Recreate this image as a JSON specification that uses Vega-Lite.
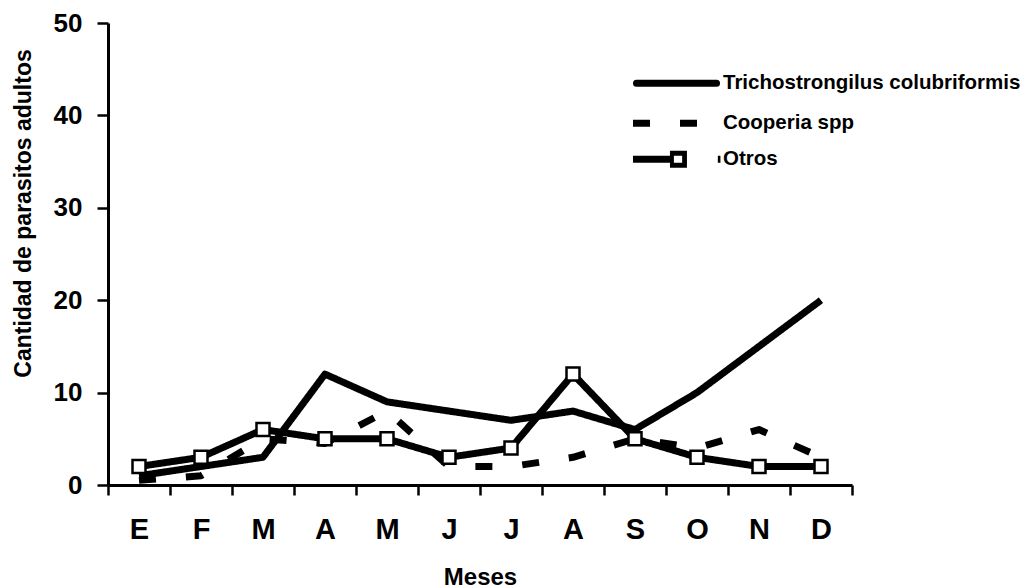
{
  "$schema": "https://vega.github.io/schema/vega-lite/v6.json",
  "width": 744,
  "height": 462,
  "autosize": {"type": "none"},
  "padding": {"left": 108, "top": 23, "right": 177, "bottom": 103},
  "background": "white",
  "config": {
    "view": {"stroke": null},
    "font": "Liberation Sans",
    "axis": {"labelColor": "black", "titleColor": "black", "domainColor": "black", "tickColor": "black", "grid": false, "labelFont": "Liberation Sans", "titleFont": "Liberation Sans"}
  },
  "data": {
    "values": [
      {"n": 1, "mes": "Enero", "serie": "Trichostrongilus colubriformis", "valor": 1},
      {"n": 2, "mes": "Febrero", "serie": "Trichostrongilus colubriformis", "valor": 2},
      {"n": 3, "mes": "Marzo", "serie": "Trichostrongilus colubriformis", "valor": 3},
      {"n": 4, "mes": "Abril", "serie": "Trichostrongilus colubriformis", "valor": 12},
      {"n": 5, "mes": "Mayo", "serie": "Trichostrongilus colubriformis", "valor": 9},
      {"n": 6, "mes": "Junio", "serie": "Trichostrongilus colubriformis", "valor": 8},
      {"n": 7, "mes": "Julio", "serie": "Trichostrongilus colubriformis", "valor": 7},
      {"n": 8, "mes": "Agosto", "serie": "Trichostrongilus colubriformis", "valor": 8},
      {"n": 9, "mes": "Septiembre", "serie": "Trichostrongilus colubriformis", "valor": 6},
      {"n": 10, "mes": "Octubre", "serie": "Trichostrongilus colubriformis", "valor": 10},
      {"n": 11, "mes": "Noviembre", "serie": "Trichostrongilus colubriformis", "valor": 15},
      {"n": 12, "mes": "Diciembre", "serie": "Trichostrongilus colubriformis", "valor": 20},
      {"n": 1, "mes": "Enero", "serie": "Cooperia spp", "valor": 0.5},
      {"n": 2, "mes": "Febrero", "serie": "Cooperia spp", "valor": 1},
      {"n": 3, "mes": "Marzo", "serie": "Cooperia spp", "valor": 5},
      {"n": 4, "mes": "Abril", "serie": "Cooperia spp", "valor": 4.5},
      {"n": 5, "mes": "Mayo", "serie": "Cooperia spp", "valor": 8},
      {"n": 6, "mes": "Junio", "serie": "Cooperia spp", "valor": 2},
      {"n": 7, "mes": "Julio", "serie": "Cooperia spp", "valor": 2},
      {"n": 8, "mes": "Agosto", "serie": "Cooperia spp", "valor": 3},
      {"n": 9, "mes": "Septiembre", "serie": "Cooperia spp", "valor": 5},
      {"n": 10, "mes": "Octubre", "serie": "Cooperia spp", "valor": 4},
      {"n": 11, "mes": "Noviembre", "serie": "Cooperia spp", "valor": 6},
      {"n": 12, "mes": "Diciembre", "serie": "Cooperia spp", "valor": 3},
      {"n": 1, "mes": "Enero", "serie": "Otros", "valor": 2},
      {"n": 2, "mes": "Febrero", "serie": "Otros", "valor": 3},
      {"n": 3, "mes": "Marzo", "serie": "Otros", "valor": 6},
      {"n": 4, "mes": "Abril", "serie": "Otros", "valor": 5},
      {"n": 5, "mes": "Mayo", "serie": "Otros", "valor": 5},
      {"n": 6, "mes": "Junio", "serie": "Otros", "valor": 3},
      {"n": 7, "mes": "Julio", "serie": "Otros", "valor": 4},
      {"n": 8, "mes": "Agosto", "serie": "Otros", "valor": 12},
      {"n": 9, "mes": "Septiembre", "serie": "Otros", "valor": 5},
      {"n": 10, "mes": "Octubre", "serie": "Otros", "valor": 3},
      {"n": 11, "mes": "Noviembre", "serie": "Otros", "valor": 2},
      {"n": 12, "mes": "Diciembre", "serie": "Otros", "valor": 2}
    ]
  },
  "layer": [
    {
      "mark": {"type": "line", "color": "black", "strokeWidth": 7, "strokeJoin": "round", "strokeCap": "butt"},
      "encoding": {
        "x": {
          "field": "mes", "type": "nominal",
          "sort": ["Enero", "Febrero", "Marzo", "Abril", "Mayo", "Junio", "Julio", "Agosto", "Septiembre", "Octubre", "Noviembre", "Diciembre"],
          "bandPosition": 0.5,
          "scale": {"type": "band", "paddingInner": 0, "paddingOuter": 0},
          "axis": {
            "title": "Meses", "titleFontSize": 24, "titleFontWeight": "bold", "titleY": 99, "titleBaseline": "alphabetic",
            "labelAngle": 0, "labelFontSize": 29, "labelFontWeight": "bold", "labelPadding": 20,
            "labelExpr": "datum.value ? upper(substring(datum.value, 0, 1)) : ''",
            "tickSize": 10, "tickWidth": 2.5, "tickBand": "extent", "domainWidth": 3
          }
        },
        "y": {
          "field": "valor", "type": "quantitative",
          "scale": {"domain": [0, 50], "nice": false},
          "axis": {
            "title": "Cantidad de parasitos adultos", "titleFontSize": 23, "titleFontWeight": "bold",
            "titleX": -78, "titleY": 190, "titleBaseline": "alphabetic", "titleAngle": -90, "titleAlign": "center",
            "values": [0, 10, 20, 30, 40, 50], "labelFontSize": 26, "labelFontWeight": "bold", "labelPadding": 15,
            "tickSize": 11, "tickWidth": 2.5, "domainWidth": 3, "labelFlush": false
          }
        },
        "strokeDash": {
          "field": "serie", "type": "nominal",
          "scale": {"domain": ["Trichostrongilus colubriformis", "Cooperia spp", "Otros"], "range": [[1, 0], [17, 30], [1, 0]]},
          "legend": {
            "title": null, "orient": "none", "legendX": 525, "legendY": 50, "padding": 0,
            "symbolType": "stroke", "symbolSize": 7569, "symbolStrokeWidth": 7, "symbolStrokeColor": "black",
            "labelFont": "Liberation Sans", "labelFontSize": 20.5, "labelFontWeight": "bold", "labelColor": "black",
            "labelOffset": 3, "rowPadding": 11, "labelLimit": 400,
            "encode": {
              "symbols": {
                "update": {
                  "x": {"value": 43.5},
                  "size": {"value": 7569},
                  "shape": {"signal": "datum.value === 'Otros' ? 'M-1,-0.08H-0.15V0.08H-1Z M-0.15,-0.195H0.24V0.195H-0.15Z M-0.06,-0.08V0.08H0.13V-0.08Z M0.95,-0.08H1.01V0.08H0.95Z' : (datum.value === 'Cooperia spp' ? 'M-1,0H1' : 'M-0.92,0H0.92')"},
                  "fill": {"value": "black"},
                  "stroke": {"value": "black"},
                  "strokeWidth": {"signal": "datum.value === 'Otros' ? 0 : 7"},
                  "strokeCap": {"signal": "datum.value === 'Cooperia spp' ? 'butt' : 'round'"}
                }
              },
              "labels": {
                "update": {"x": {"value": 90}}
              }
            }
          }
        },
        "order": {"field": "n", "type": "quantitative"}
      }
    },
    {
      "transform": [{"filter": "datum.serie === 'Otros'"}],
      "mark": {"type": "point", "shape": "square", "filled": true, "fill": "white", "stroke": "black", "strokeWidth": 2.5, "size": 169, "opacity": 1},
      "encoding": {
        "x": {
          "field": "mes", "type": "nominal",
          "sort": ["Enero", "Febrero", "Marzo", "Abril", "Mayo", "Junio", "Julio", "Agosto", "Septiembre", "Octubre", "Noviembre", "Diciembre"],
          "bandPosition": 0.5
        },
        "y": {"field": "valor", "type": "quantitative"}
      }
    }
  ]
}
